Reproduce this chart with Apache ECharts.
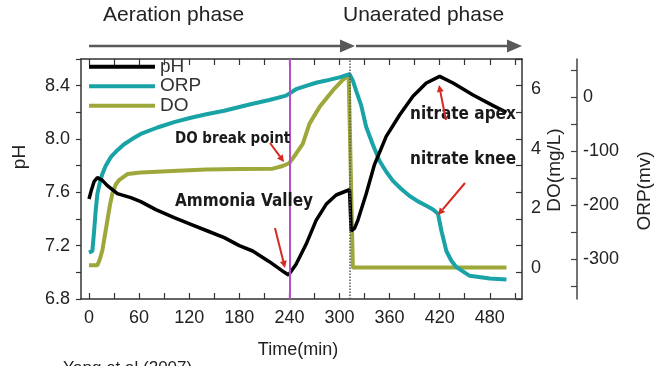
<!DOCTYPE html>
<html>
<head>
<meta charset="utf-8">
<script src="https://cdn.jsdelivr.net/npm/echarts@6/dist/echarts.min.js"></script>
<style>
html,body{margin:0;padding:0;background:#fff;}
#chart{width:654px;height:366px;}
</style>
</head>
<body>
<div id="chart"></div>
<script>
// ---- data ----
const timeTicks = [0,30,60,90,120,150,180,210,240,270,300,330,360,390,420,450,480,510];
const timeLabels = [0,60,120,180,240,300,360,420,480];
const phTicks = [6.8,7.0,7.2,7.4,7.6,7.8,8.0,8.2,8.4,8.6];
const phLabels = [6.8,7.2,7.6,8.0,8.4];
const doLabels = [0,2,4,6];
const orpTicks = [-350,-300,-250,-200,-150,-100,-50,0,50];
const orpLabels = [-300,-200,-100,0];

const phTime = [0,3,6,10,16,22,34,50,62,80,102,122,142,162,180,196,216,234,239,248,260,272,284,296,308,312,314,318,322,332,342,356,372,388,404,420,436,460,484,500];
const phValues = [7.55,7.62,7.68,7.71,7.69,7.65,7.59,7.56,7.53,7.47,7.41,7.36,7.31,7.26,7.20,7.16,7.08,7.00,6.98,7.06,7.21,7.39,7.51,7.58,7.61,7.62,7.31,7.33,7.39,7.59,7.81,8.02,8.18,8.32,8.42,8.47,8.42,8.33,8.25,8.20];

const orpTime = [0,4,6,8,10,13,16,20,26,34,42,52,62,82,102,122,142,162,180,196,216,236,248,260,272,284,300,312,316,320,326,332,340,348,356,364,374,384,394,404,412,418,422,428,434,440,456,480,500];
const orpValues = [-288,-285,-250,-210,-179,-158,-142,-127,-111,-98,-87,-77,-68,-56,-46,-38,-31,-25,-18,-12,-5,3,15,21,27,31,37,43,31,12,-15,-55,-88,-118,-138,-155,-170,-183,-193,-201,-208,-216,-247,-285,-303,-315,-331,-336,-338];

const doTime = [0,10,13,16,19,22,25,28,32,36,46,62,100,140,180,220,232,240,248,256,264,276,292,304,311,313,316,360,420,500];
const doValues = [0.1,0.1,0.3,0.6,1.1,1.6,2.1,2.5,2.8,2.95,3.15,3.2,3.25,3.3,3.32,3.33,3.42,3.52,3.83,4.16,4.83,5.39,5.95,6.3,6.45,6.4,0.02,0.02,0.02,0.02];

const zip = (a,b) => a.map((t,i)=>[t,b[i]]);

const FONT = 'Liberation Sans, Arial, sans-serif';
const AX = '#333';
const chart = echarts.init(document.getElementById('chart'), null, {renderer:'canvas'});

function arrow(x1,y1,x2,y2,color,w,hl,hw){
  const dx=x2-x1, dy=y2-y1, L=Math.hypot(dx,dy), ux=dx/L, uy=dy/L;
  const bx=x2-ux*hl, by=y2-uy*hl;
  return [
    {type:'line', shape:{x1:x1,y1:y1,x2:bx,y2:by}, style:{stroke:color,lineWidth:w}, z:100},
    {type:'polygon', shape:{points:[[x2,y2],[bx-uy*hw,by+ux*hw],[bx+uy*hw,by-ux*hw]]}, style:{fill:color}, z:100}
  ];
}
function txt(x,y,t,size,opts){
  return Object.assign({type:'text', x:x, y:y, z:100, style:Object.assign({text:t, font: size+'px '+FONT, fill:'#222', textAlign:'left', textVerticalAlign:'middle'}, opts && opts.style)}, opts && opts.el);
}
const HAND = 'bold {s}px "DejaVu Sans Condensed","DejaVu Sans",sans-serif';
function hand(x,y,t,s){
  return {type:'text', x:x, y:y, z:100, style:{text:t, font:HAND.replace('{s}',s), fill:'#1a1a1a', textAlign:'left', textVerticalAlign:'middle'}};
}

const graphics = [
  txt(103,15,'Aeration phase',21),
  txt(343,15,'Unaerated phase',21),
  ...arrow(89,46,355,46,'#595959',2.5,15,6.5),
  ...arrow(356,46,522,46,'#595959',2.5,15,6.5),
  txt(20,157,'pH',19,{style:{textAlign:'center'}, el:{rotation:Math.PI/2}}),
  txt(298,350,'Time(min)',18,{style:{textAlign:'center'}}),
  txt(555,170,'DO(mg/L)',19,{style:{textAlign:'center'}, el:{rotation:Math.PI/2}}),
  txt(645,191,'ORP(mv)',19,{style:{textAlign:'center'}, el:{rotation:Math.PI/2}}),
  txt(63,368,'Yang et al (2007)',17),
  hand(175,139,'DO break point',15),
  hand(175,202,'Ammonia Valley',17),
  hand(410,115,'nitrate apex',17),
  hand(410,160,'nitrate knee',17),
  ...arrow(270,143,284,162,'#d42a20',2,7,3.5),
  ...arrow(275,228,285,268,'#d42a20',2,7,3.5),
  ...arrow(446,120,439,85,'#d42a20',2,7,3.5),
  ...arrow(465,183,438,215,'#d42a20',2,7,3.5)
];

const option = {
  backgroundColor:'#fff',
  animation:false,
  grid:{left:81, right:132, top:59, bottom:67, containLabel:false},
  legend:{
    orient:'vertical', left:89, top:57, itemWidth:66, itemHeight:4, itemGap:0, padding:0,
    icon:'rect',
    textStyle:{fontSize:19, lineHeight:19.5, color:'#333', fontFamily:FONT},
    data:['pH','ORP','DO']
  },
  xAxis:[
    {type:'value', position:'bottom', min:-9.6, max:518.6,
     axisLine:{show:true, onZero:false, lineStyle:{color:AX, width:1.5}},
     axisTick:{show:true, inside:true, length:6, customValues:timeTicks, lineStyle:{color:AX, width:1.2}},
     axisLabel:{show:true, customValues:timeLabels, fontSize:18, color:'#222', fontFamily:FONT, margin:10},
     splitLine:{show:false}},
    {type:'value', position:'top', min:-9.6, max:518.6,
     axisLine:{show:true, onZero:false, lineStyle:{color:AX, width:1.5}},
     axisTick:{show:true, inside:true, length:6, customValues:timeTicks, lineStyle:{color:AX, width:1.2}},
     axisLabel:{show:false}, splitLine:{show:false}}
  ],
  yAxis:[
    {type:'value', position:'left', min:6.8, max:8.6,
     axisLine:{show:true, onZero:false, lineStyle:{color:AX, width:1.5}},
     axisTick:{show:true, inside:false, length:5, customValues:phTicks, lineStyle:{color:AX, width:1.2}},
     axisLabel:{show:true, customValues:phLabels, formatter:v=>Number(v).toFixed(1), fontSize:18, color:'#222', fontFamily:FONT, margin:11},
     splitLine:{show:false}},
    {type:'value', position:'right', offset:0, min:6.8, max:8.6,
     axisLine:{show:true, onZero:false, lineStyle:{color:AX, width:1.5}},
     axisTick:{show:true, inside:true, length:6, customValues:phTicks, lineStyle:{color:AX, width:1.2}},
     axisLabel:{show:false}, splitLine:{show:false}},
    {type:'value', position:'right', offset:0, min:-1.03, max:7.0,
     axisLine:{show:false, onZero:false}, axisTick:{show:false},
     axisLabel:{show:true, customValues:doLabels, fontSize:18, color:'#222', fontFamily:FONT, margin:9},
     splitLine:{show:false}},
    {type:'value', position:'right', offset:55, min:-374, max:71,
     axisLine:{show:true, onZero:false, lineStyle:{color:'#444', width:1.5}},
     axisTick:{show:true, inside:true, length:6, customValues:orpTicks, lineStyle:{color:'#444', width:1.2}},
     axisLabel:{show:true, customValues:orpLabels, fontSize:18, color:'#222', fontFamily:FONT, margin:6},
     splitLine:{show:false}}
  ],
  series:[
    {name:'DO', type:'line', xAxisIndex:0, yAxisIndex:2, data:zip(doTime,doValues), showSymbol:false, symbol:'none',
     lineStyle:{color:'#9ea73a', width:4}, itemStyle:{color:'#9ea73a'}, z:2,
     markLine:{silent:true, symbol:'none', label:{show:false},
       data:[
         {xAxis:240, lineStyle:{color:'#b450c8', width:2, type:'solid'}},
         {xAxis:312.5, lineStyle:{color:'#555', width:1.5, type:'dotted'}}
       ]}},
    {name:'ORP', type:'line', xAxisIndex:0, yAxisIndex:3, data:zip(orpTime,orpValues), showSymbol:false, symbol:'none',
     lineStyle:{color:'#1aa3a6', width:4}, itemStyle:{color:'#1aa3a6'}, z:3},
    {name:'pH', type:'line', xAxisIndex:0, yAxisIndex:0, data:zip(phTime,phValues), showSymbol:false, symbol:'none',
     lineStyle:{color:'#000', width:3.5}, itemStyle:{color:'#000'}, z:4}
  ],
  graphic: graphics
};
chart.setOption(option);
</script>
</body>
</html>
